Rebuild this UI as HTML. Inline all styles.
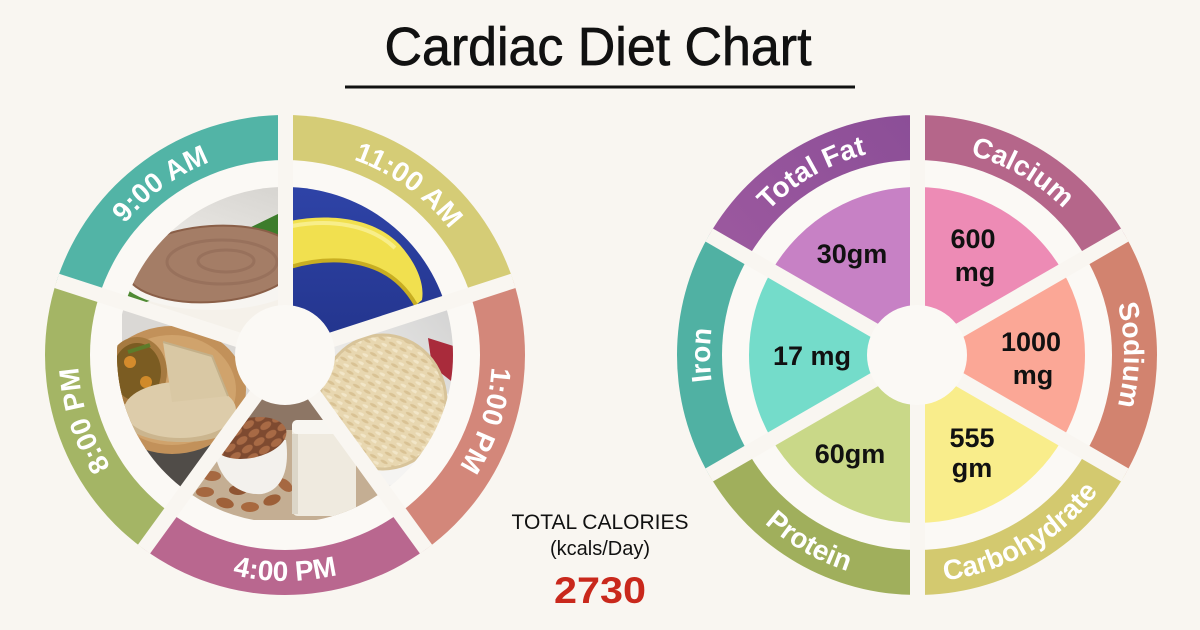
<!DOCTYPE html>
<html><head><meta charset="utf-8"><style>
html,body{margin:0;padding:0;background:#f9f6f1;}
svg{display:block;}
</style></head><body>
<svg width="1200" height="630" viewBox="0 0 1200 630" xmlns="http://www.w3.org/2000/svg" font-family="'Liberation Sans', Arial, sans-serif">
<defs>
 <linearGradient id="fatG" x1="0" y1="1" x2="1" y2="0"><stop offset="0" stop-color="#a15ca1"/><stop offset="1" stop-color="#8b4e97"/></linearGradient>
 <linearGradient id="greyTop" x1="1" y1="0" x2="0" y2="1"><stop offset="0" stop-color="#d4d2ce"/><stop offset="1" stop-color="#eeece8"/></linearGradient>
 <linearGradient id="blueG" x1="0" y1="0" x2="0" y2="1"><stop offset="0" stop-color="#2f44a8"/><stop offset="1" stop-color="#22338a"/></linearGradient>
 <linearGradient id="riceBg" x1="1" y1="0" x2="0" y2="1"><stop offset="0" stop-color="#cfcfcf"/><stop offset="0.5" stop-color="#ebeae8"/><stop offset="1" stop-color="#f3f2f0"/></linearGradient>
 <pattern id="rice" width="12" height="9" patternUnits="userSpaceOnUse" patternTransform="rotate(28)">
  <rect width="12" height="9" fill="#e8d7b0"/>
  <ellipse cx="4" cy="2.5" rx="4" ry="1.5" fill="#d9c294"/>
  <ellipse cx="10" cy="7" rx="4" ry="1.5" fill="#f2e6c8"/>
 </pattern>
 <pattern id="alm" width="14" height="10" patternUnits="userSpaceOnUse" patternTransform="rotate(-20)">
  <rect width="14" height="10" fill="#7e4a30"/>
  <ellipse cx="7" cy="5" rx="6" ry="3.5" fill="#a86a45"/>
 </pattern>
 <clipPath id="cDosa"><path d="M285,355 L125.22,303.09 A168,168 0 0 1 285,187 Z"/></clipPath>
 <clipPath id="cBan"><path d="M285,355 L285,187 A168,168 0 0 1 444.78,303.09 Z"/></clipPath>
 <clipPath id="cRice"><path d="M285,355 L444.78,303.09 A168,168 0 0 1 383.75,490.91 Z"/></clipPath>
 <clipPath id="cAlm"><path d="M285,355 L383.75,490.91 A168,168 0 0 1 186.25,490.91 Z"/></clipPath>
 <clipPath id="cRoti"><path d="M285,355 L186.25,490.91 A168,168 0 0 1 125.22,303.09 Z"/></clipPath>
 <path id="p9" d="M88.13,291.04 A207,207 0 0 1 285,148"/>
 <path id="p11" d="M285,148 A207,207 0 0 1 481.87,291.04"/>
 <path id="p1" d="M481.87,291.04 A207,207 0 0 1 406.67,522.47"/>
 <path id="p8" d="M163.33,522.47 A207,207 0 0 1 88.13,291.04"/>
 <path id="p4" d="M152.16,537.83 A226,226 0 0 0 417.84,537.83"/>
 <path id="pFat" d="M737.73,251.5 A207,207 0 0 1 917,148"/>
 <path id="pCal" d="M917,148 A207,207 0 0 1 1096.27,251.5"/>
 <path id="pSod" d="M1096.27,251.5 A207,207 0 0 1 1096.27,458.5"/>
 <path id="pIron" d="M737.73,458.5 A207,207 0 0 1 737.73,251.5"/>
 <path id="pCarb" d="M917,582 A227,227 0 0 0 1113.59,468.5"/>
 <path id="pProt" d="M720.41,468.5 A227,227 0 0 0 917,582"/>
</defs>
<rect width="1200" height="630" fill="#f9f6f1"/>

<text x="598" y="65" font-size="54" text-anchor="middle" textLength="427" lengthAdjust="spacingAndGlyphs" fill="#111" stroke="#111" stroke-width="0.7">Cardiac Diet Chart</text>
<rect x="345" y="85.5" width="510" height="3" fill="#111"/>

<g>
 <path d="M285,355 L56.74,280.84 A240,240 0 0 1 285,115 Z" fill="#52b4a6"/>
 <path d="M285,355 L285,115 A240,240 0 0 1 513.26,280.84 Z" fill="#d5cc76"/>
 <path d="M285,355 L513.26,280.84 A240,240 0 0 1 426.07,549.16 Z" fill="#d3877a"/>
 <path d="M285,355 L426.07,549.16 A240,240 0 0 1 143.93,549.16 Z" fill="#b9678f"/>
 <path d="M285,355 L143.93,549.16 A240,240 0 0 1 56.74,280.84 Z" fill="#a4b565"/>
 <circle cx="285" cy="355" r="195" fill="#fbf9f5"/>

 <g clip-path="url(#cDosa)">
  <rect x="115" y="180" width="175" height="180" fill="#f5f1ea"/>
  <rect x="115" y="180" width="175" height="60" fill="url(#greyTop)"/>
  <path d="M245,230 L282,212 L284,248 Z" fill="#3d7d2c"/>
  <path d="M125,288 L152,300 L130,308 Z" fill="#4f8a33"/>
  <ellipse cx="212" cy="274" rx="94" ry="36" fill="#f7f5f1"/>
  <ellipse cx="212" cy="264" rx="87" ry="38" fill="#a47d66" stroke="#8a5f48" stroke-width="2" transform="rotate(-4 212 264)"/>
  <ellipse cx="222" cy="262" rx="55" ry="22" fill="none" stroke="#8c6652" stroke-width="3" opacity="0.5"/>
  <ellipse cx="226" cy="261" rx="28" ry="11" fill="none" stroke="#8c6652" stroke-width="3" opacity="0.5"/>
 </g>
 <g clip-path="url(#cBan)">
  <rect x="280" y="180" width="175" height="180" fill="url(#blueG)"/>
  <path d="M290,221 C330,213 375,218 400,245 C415,262 425,282 422,300 L416,305 C408,291 395,276 375,268 C350,258 320,258 290,267 Z" fill="#f1e04f"/>
  <path d="M290,267 C320,258 350,258 375,268 C395,276 408,291 416,305" fill="none" stroke="#c8ae22" stroke-width="4"/>
  <path d="M292,226 C330,219 370,224 395,248" fill="none" stroke="#f8ee8a" stroke-width="4"/>
 </g>
 <g clip-path="url(#cRice)">
  <rect x="280" y="285" width="180" height="215" fill="url(#riceBg)"/>
  <path d="M428,338 L460,348 L460,388 L432,366 Z" fill="#a92b3b"/>
  <ellipse cx="395" cy="430" rx="70" ry="55" fill="#f5f4f2"/>
  <ellipse cx="383" cy="402" rx="63" ry="67" fill="url(#rice)"/>
  <ellipse cx="383" cy="402" rx="63" ry="67" fill="none" stroke="#d8c49a" stroke-width="3"/>
 </g>
 <g clip-path="url(#cAlm)">
  <rect x="180" y="380" width="210" height="140" fill="#c4ae93"/>
  <rect x="180" y="380" width="210" height="50" fill="#8d7665"/>
  <ellipse cx="205" cy="492" rx="9" ry="5" fill="#a5673f"/>
  <ellipse cx="225" cy="503" rx="9" ry="5" fill="#9f6139" transform="rotate(15 225 503)"/>
  <ellipse cx="250" cy="507" rx="9" ry="5" fill="#a8693f"/>
  <ellipse cx="272" cy="500" rx="9" ry="5" fill="#9c5f38" transform="rotate(-20 272 500)"/>
  <ellipse cx="285" cy="485" rx="9" ry="5" fill="#a66841" transform="rotate(40 285 485)"/>
  <ellipse cx="212" cy="476" rx="9" ry="5" fill="#a66841"/>
  <ellipse cx="238" cy="490" rx="9" ry="5" fill="#8f5533"/>
  <path d="M214,440 C214,480 240,496 262,494 C282,490 290,470 286,440 Z" fill="#f3f1ed"/>
  <ellipse cx="250" cy="438" rx="37" ry="20" fill="url(#alm)" transform="rotate(-12 250 438)"/>
  <rect x="292" y="420" width="64" height="96" rx="6" fill="#efeadf"/>
  <rect x="292" y="420" width="64" height="14" rx="5" fill="#f8f6f1"/>
  <rect x="292" y="434" width="6" height="80" fill="#dcd6c8"/>
 </g>
 <g clip-path="url(#cRoti)">
  <rect x="122" y="300" width="170" height="205" fill="#dad8d5"/>
  <rect x="145" y="440" width="100" height="70" fill="#504c48"/>
  <ellipse cx="172" cy="390" rx="74" ry="64" fill="#c2915a"/>
  <ellipse cx="172" cy="390" rx="64" ry="55" fill="#d0a36c"/>
  <ellipse cx="137" cy="372" rx="30" ry="35" fill="#a67a40"/>
  <ellipse cx="137" cy="372" rx="24" ry="29" fill="#7b5c22"/>
  <circle cx="130" cy="362" r="6" fill="#d48b2c"/>
  <circle cx="146" cy="382" r="6" fill="#d08a2a"/>
  <path d="M128,352 L150,345" stroke="#5d7c2a" stroke-width="4"/>
  <ellipse cx="182" cy="420" rx="58" ry="22" fill="#cbb58e"/>
  <ellipse cx="180" cy="410" rx="56" ry="28" fill="#ddccaa"/>
  <path d="M163,342 L212,356 L228,396 L172,402 Z" fill="#d9c8a4"/>
  <path d="M163,342 L212,356 L228,396" fill="none" stroke="#c4b089" stroke-width="2"/>
 </g>

 <g stroke="#f9f6f1" stroke-width="15">
  <line x1="285" y1="355" x2="56.74" y2="280.84"/>
  <line x1="285.5" y1="355" x2="285.5" y2="115"/>
  <line x1="285" y1="355" x2="513.26" y2="280.84"/>
  <line x1="285" y1="355" x2="426.07" y2="549.16"/>
  <line x1="285" y1="355" x2="143.93" y2="549.16"/>
 </g>
 <circle cx="285" cy="355" r="50" fill="#fbf9f5"/>

 <g font-size="28" font-weight="bold" fill="#fff">
  <text><textPath href="#p9" startOffset="50%" text-anchor="middle">9:00 AM</textPath></text>
  <text><textPath href="#p11" startOffset="50%" text-anchor="middle">11:00 AM</textPath></text>
  <text><textPath href="#p1" startOffset="50%" text-anchor="middle">1:00 PM</textPath></text>
  <text><textPath href="#p8" startOffset="50%" text-anchor="middle">8:00 PM</textPath></text>
  <text><textPath href="#p4" startOffset="50%" text-anchor="middle">4:00 PM</textPath></text>
 </g>
</g>

<text x="600" y="529" font-size="21" text-anchor="middle" fill="#111">TOTAL CALORIES</text>
<text x="600" y="555" font-size="20" text-anchor="middle" fill="#111">(kcals/Day)</text>
<text x="600" y="603" font-size="37" font-weight="bold" text-anchor="middle" textLength="92" lengthAdjust="spacingAndGlyphs" fill="#c9281c">2730</text>

<g>
 <path d="M917,355 L709.15,235 A240,240 0 0 1 917,115 Z" fill="url(#fatG)"/>
 <path d="M917,355 L917,115 A240,240 0 0 1 1124.85,235 Z" fill="#b5668a"/>
 <path d="M917,355 L1124.85,235 A240,240 0 0 1 1124.85,475 Z" fill="#d2836f"/>
 <path d="M917,355 L1124.85,475 A240,240 0 0 1 917,595 Z" fill="#d3c96f"/>
 <path d="M917,355 L917,595 A240,240 0 0 1 709.15,475 Z" fill="#a0af5c"/>
 <path d="M917,355 L709.15,475 A240,240 0 0 1 709.15,235 Z" fill="#50b1a3"/>
 <circle cx="917" cy="355" r="195" fill="#fbf9f5"/>

 <path d="M917,355 L771.51,271 A168,168 0 0 1 917,187 Z" fill="#c781c5"/>
 <path d="M917,355 L917,187 A168,168 0 0 1 1062.49,271 Z" fill="#ed8bb5"/>
 <path d="M917,355 L1062.49,271 A168,168 0 0 1 1062.49,439 Z" fill="#fba796"/>
 <path d="M917,355 L1062.49,439 A168,168 0 0 1 917,523 Z" fill="#f9ed8b"/>
 <path d="M917,355 L917,523 A168,168 0 0 1 771.51,439 Z" fill="#c9d888"/>
 <path d="M917,355 L771.51,439 A168,168 0 0 1 771.51,271 Z" fill="#74dcca"/>

 <g stroke="#f9f6f1" stroke-width="15">
  <line x1="917" y1="355" x2="709.15" y2="235"/>
  <line x1="917.5" y1="355" x2="917.5" y2="115"/>
  <line x1="917" y1="355" x2="1124.85" y2="235"/>
  <line x1="917" y1="355" x2="1124.85" y2="475"/>
  <line x1="917.5" y1="355" x2="917.5" y2="595"/>
  <line x1="917" y1="355" x2="709.15" y2="475"/>
 </g>
 <circle cx="917" cy="355" r="50" fill="#fbf9f5"/>

 <g font-size="28" font-weight="bold" fill="#fff">
  <text><textPath href="#pFat" startOffset="50%" text-anchor="middle">Total Fat</textPath></text>
  <text><textPath href="#pCal" startOffset="50%" text-anchor="middle">Calcium</textPath></text>
  <text><textPath href="#pSod" startOffset="50%" text-anchor="middle">Sodium</textPath></text>
  <text><textPath href="#pIron" startOffset="50%" text-anchor="middle">Iron</textPath></text>
  <text><textPath href="#pCarb" startOffset="50%" text-anchor="middle">Carbohydrate</textPath></text>
  <text><textPath href="#pProt" startOffset="50%" text-anchor="middle">Protein</textPath></text>
 </g>

 <g font-size="27" font-weight="bold" fill="#111" text-anchor="middle">
  <text x="852" y="263">30gm</text>
  <text x="973" y="248">600</text>
  <text x="975" y="281">mg</text>
  <text x="1031" y="351">1000</text>
  <text x="1033" y="384">mg</text>
  <text x="812" y="365">17 mg</text>
  <text x="850" y="463">60gm</text>
  <text x="972" y="447">555</text>
  <text x="972" y="477">gm</text>
 </g>
</g>
</svg>
</body></html>
